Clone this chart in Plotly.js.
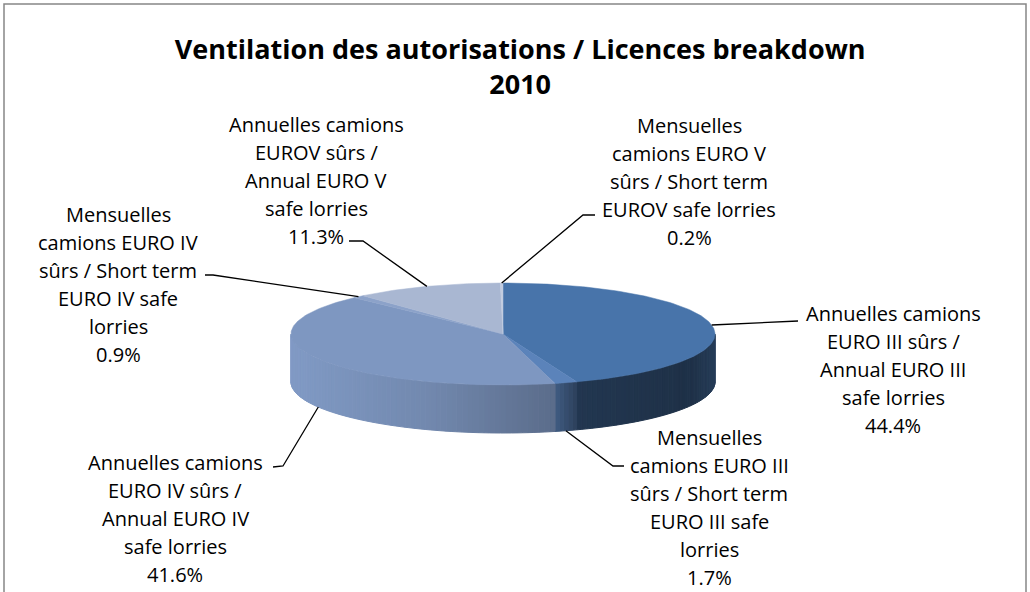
<!DOCTYPE html>
<html><head><meta charset="utf-8">
<script src="https://cdn.plot.ly/plotly-3.0.1.min.js"></script>
<style>html,body{margin:0;padding:0;background:#fff}#chart{width:1030px;height:592px}</style>
</head><body><div id="chart"></div>
<script>
// ---- data ----
const categories = [
  "Annuelles camions\nEURO III sûrs /\nAnnual EURO III\nsafe lorries",
  "Mensuelles\ncamions EURO III\nsûrs / Short term\nEURO III safe\nlorries",
  "Annuelles camions\nEURO IV sûrs /\nAnnual EURO IV\nsafe lorries",
  "Mensuelles\ncamions EURO IV\nsûrs / Short term\nEURO IV safe\nlorries",
  "Annuelles camions\nEUROV sûrs /\nAnnual EURO V\nsafe lorries",
  "Mensuelles\ncamions EURO V\nsûrs / Short term\nEUROV safe lorries"
];
const values = [44.4, 1.7, 41.6, 0.9, 11.3, 0.2];
const titleText = "Ventilation des autorisations / Licences breakdown<br>2010";

// ---- style ----
const sliceColors = ['#4874AA','#5B83BA','#7E97C1','#8CA2C9','#A9B7D2','#C2CCE0'];
const CX = 503, CY = 334, RX = 212, RY = 51, DEPTH = 48;
const labelPos = [[893,313],[709,437],[175,462],[118,214],[316,124],[689,125]];
const leaderPts = [
  [[790,321],[798,321]],
  [[613,466],[624,466]],
  [[283,466],[273,467]],
  [[213,275],[205,275]],
  [[363,241],[349,241]],
  [[583,215],[595,215]]
];
const LINE_H = 28;
const labelFont = {family: "'Open Sans', 'DejaVu Sans', sans-serif", size: 20, color: '#000'};

// ---- geometry helpers ----
const total = values.reduce((a, b) => a + b, 0);
let acc = 0;
const angles = values.map(v => { const a0 = acc / total * 360; acc += v; return [a0, acc / total * 360]; });
function pt(deg, dy) { const r = deg * Math.PI / 180; return [CX + RX * Math.sin(r), CY - RY * Math.cos(r) + (dy || 0)]; }
function hexToRgb(h) { return [parseInt(h.slice(1,3),16), parseInt(h.slice(3,5),16), parseInt(h.slice(5,7),16)]; }
const shadeStops = [[291,1.02],[430,0.9],[553,0.72],[578,0.47],[690,0.42],[715,0.52]];
function shadeF(x) {
  if (x <= shadeStops[0][0]) return shadeStops[0][1];
  for (let i = 1; i < shadeStops.length; i++) {
    if (x <= shadeStops[i][0]) {
      const [x0,f0] = shadeStops[i-1], [x1,f1] = shadeStops[i];
      return f0 + (f1 - f0) * (x - x0) / (x1 - x0);
    }
  }
  return shadeStops[shadeStops.length-1][1];
}
function shade(hex, f) {
  const c = hexToRgb(hex).map(v => Math.max(0, Math.min(255, Math.round(v * f))));
  return `rgb(${c[0]},${c[1]},${c[2]})`;
}

const traces = [];
// side faces (front half only)
angles.forEach(([a0, a1], i) => {
  const lo = Math.max(a0, 90), hi = Math.min(a1, 270);
  if (lo >= hi) return;
  const n = Math.max(1, Math.ceil((hi - lo) / 1.5));
  for (let k = 0; k < n; k++) {
    const t0 = lo + (hi - lo) * k / n, t1 = lo + (hi - lo) * (k + 1) / n;
    const p0 = pt(t0), p1 = pt(t1), p2 = pt(t1, DEPTH), p3 = pt(t0, DEPTH);
    const col = shade(sliceColors[i], shadeF((p0[0] + p1[0]) / 2));
    traces.push({
      type: 'scatter', mode: 'lines', fill: 'toself', fillcolor: col,
      x: [p0[0], p1[0], p2[0], p3[0], p0[0]], y: [p0[1], p1[1], p2[1], p3[1], p0[1]],
      line: {color: col, width: 1}, hoverinfo: 'skip', showlegend: false
    });
  }
});
// top faces
angles.forEach(([a0, a1], i) => {
  const xs = [CX], ys = [CY];
  const n = Math.max(2, Math.ceil((a1 - a0) / 1));
  for (let k = 0; k <= n; k++) { const p = pt(a0 + (a1 - a0) * k / n); xs.push(p[0]); ys.push(p[1]); }
  xs.push(CX); ys.push(CY);
  traces.push({
    type: 'scatter', mode: 'lines', fill: 'toself', fillcolor: sliceColors[i],
    x: xs, y: ys, line: {color: sliceColors[i], width: 0.5}, hoverinfo: 'skip', showlegend: false
  });
});
// leader lines
angles.forEach(([a0, a1], i) => {
  const mid = (a0 + a1) / 2;
  const front = Math.cos(mid * Math.PI / 180) < 0;
  const s = pt(mid, front ? DEPTH : 0);
  const pts = [s].concat(leaderPts[i]);
  traces.push({
    type: 'scatter', mode: 'lines', x: pts.map(p => p[0]), y: pts.map(p => p[1]),
    line: {color: '#000', width: 1.3}, hoverinfo: 'skip', showlegend: false
  });
});

// labels
const annotations = [];
categories.forEach((cat, i) => {
  const lines = cat.split('\n').concat([values[i].toFixed(1) + '%']);
  lines.forEach((ln, j) => {
    annotations.push({
      x: labelPos[i][0], y: labelPos[i][1] + j * LINE_H, xref: 'x', yref: 'y',
      text: ln, showarrow: false, xanchor: 'center', yanchor: 'middle', font: labelFont
    });
  });
});

const layout = {
  width: 1030, height: 592,
  margin: {l: 0, r: 0, t: 0, b: 0},
  paper_bgcolor: '#fff', plot_bgcolor: '#fff',
  showlegend: false, hovermode: false,
  xaxis: {range: [0, 1030], visible: false, fixedrange: true},
  yaxis: {range: [592, 0], visible: false, fixedrange: true},
  title: {
    text: '<b>' + titleText + '</b>',
    x: 0.505, xanchor: 'center', xref: 'paper',
    y: 1 - 59 / 592, yanchor: 'top', yref: 'container',
    font: {family: "'Open Sans', 'DejaVu Sans', sans-serif", size: 27, color: '#000'}
  },
  shapes: [{type: 'rect', xref: 'x', yref: 'y', x0: 4, x1: 1026, y0: 4, y1: 598,
            line: {color: '#868686', width: 1.5}, fillcolor: 'rgba(0,0,0,0)'}],
  annotations: annotations
};
Plotly.newPlot('chart', traces, layout, {staticPlot: true, displayModeBar: false});
</script></body></html>
